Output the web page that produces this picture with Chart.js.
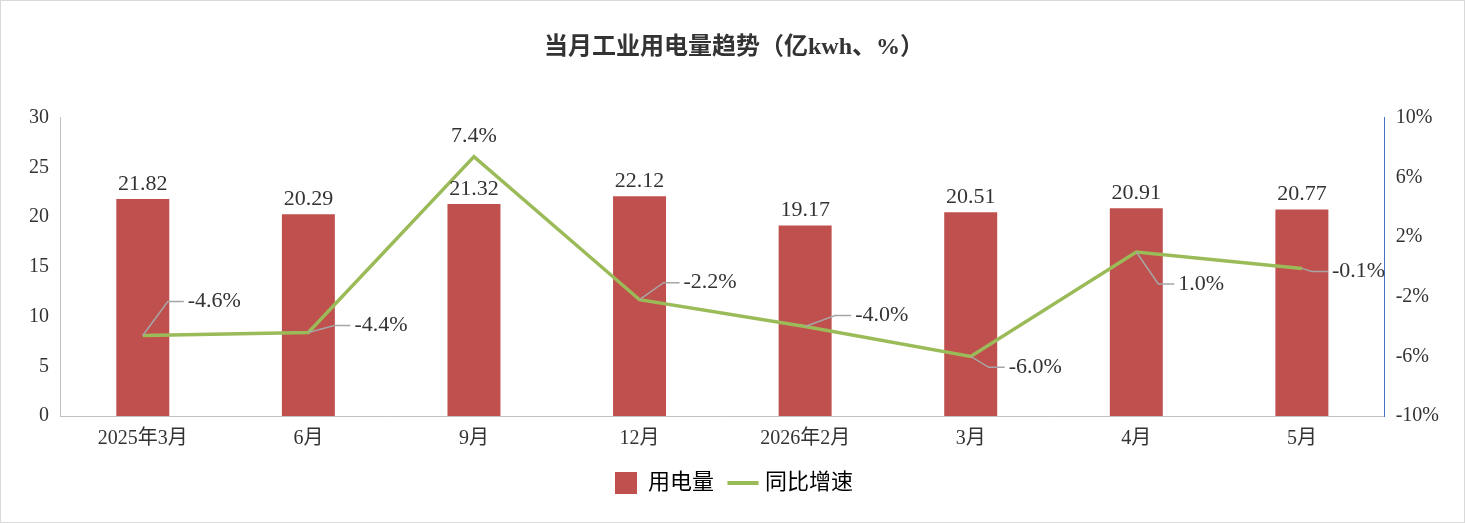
<!DOCTYPE html>
<html lang="zh">
<head>
<meta charset="UTF-8">
<script src="https://cdn.jsdelivr.net/npm/chart.js"></script>
<style>
  body { margin: 0; background: #fff; }
  #wrap { width: 1463px; height: 521px; border: 1px solid #d9d9d9; }
</style>
</head>
<body>
<div id="wrap"><canvas id="c"></canvas></div>
<script>
const categories = ['2025年3月', '6月', '9月', '12月', '2026年2月', '3月', '4月', '5月'];
const usage = [21.82, 20.29, 21.32, 22.12, 19.17, 20.51, 20.91, 20.77];
const growth = [-4.6, -4.4, 7.4, -2.2, -4.0, -6.0, 1.0, -0.1];
// left edge of each growth label relative to its point (dx, dy in px)
const growthLabelOffsets = [[45, -34], [46, -7], [0, -20], [44, -17], [50, -11], [38, 11], [42, 32], [30, 3]];

const FONT = '"Liberation Serif", "Noto Sans CJK SC", serif';

const labelPlugin = {
  id: 'labels',
  afterDatasetsDraw(chart) {
    const ctx = chart.ctx;
    ctx.save();
    ctx.font = '22px ' + FONT;
    ctx.fillStyle = '#333';
    ctx.textAlign = 'center';
    ctx.textBaseline = 'bottom';
    chart.getDatasetMeta(0).data.forEach((b, i) => {
      ctx.fillText(usage[i].toFixed(2), b.x, b.y - 4);
    });
    chart.getDatasetMeta(1).data.forEach((p, i) => {
      const [dx, dy] = growthLabelOffsets[i];
      const lx = p.x + dx, ly = p.y + dy;
      const txt = growth[i].toFixed(1) + '%';
      ctx.textBaseline = 'middle';
      if (i === 2) {
        ctx.textAlign = 'center';
        ctx.fillText(txt, p.x, ly);
        return;
      }
      ctx.strokeStyle = '#a6a6a6';
      ctx.lineWidth = 1.5;
      ctx.beginPath();
      ctx.moveTo(p.x, p.y);
      ctx.lineTo(lx - 20, ly);
      ctx.lineTo(lx - 4, ly);
      ctx.stroke();
      ctx.textAlign = 'left';
      ctx.fillText(txt, lx, ly);
    });
    ctx.restore();
  }
};

new Chart(document.getElementById('c'), {
  data: {
    labels: categories,
    datasets: [
      { type: 'bar', label: '用电量', data: usage, backgroundColor: '#C0504D',
        barPercentage: 0.32, categoryPercentage: 1, yAxisID: 'y', order: 2 },
      { type: 'line', label: '同比增速', data: growth, borderColor: '#9BBB59',
        backgroundColor: '#9BBB59', borderWidth: 3.5, pointRadius: 0, tension: 0,
        yAxisID: 'y1', order: 1 }
    ]
  },
  options: {
    responsive: true, maintainAspectRatio: false, animation: false,
    layout: { padding: { left: 25, right: 22, top: 10, bottom: 18 } },
    plugins: {
      title: { display: true, text: '当月工业用电量趋势（亿kwh、%）', color: '#333',
        font: { family: FONT, size: 24, weight: 'bold' }, padding: { top: 22, bottom: 56 } },
      legend: { position: 'bottom', labels: { color: '#333', font: { family: FONT, size: 22 },
        usePointStyle: true, boxWidth: 50, padding: 18,
        generateLabels(chart) {
          return chart.data.datasets.map((d, i) => ({
            text: d.label, fillStyle: d.backgroundColor, strokeStyle: d.type === 'line' ? d.borderColor : d.backgroundColor,
            lineWidth: d.type === 'line' ? 4 : 0, pointStyle: d.type === 'line' ? 'line' : 'rect', datasetIndex: i
          }));
        } } },
      tooltip: { enabled: false }
    },
    scales: {
      x: { grid: { display: false }, border: { color: '#bfbfbf' },
        ticks: { color: '#333', font: { family: FONT, size: 20 } } },
      y: { min: 0, max: 30, ticks: { stepSize: 5, color: '#333', font: { family: FONT, size: 20 } },
        grid: { display: false }, border: { color: '#bfbfbf' } },
      y1: { position: 'right', min: -10, max: 10,
        ticks: { color: '#333', font: { family: FONT, size: 20 }, callback: v => v + '%' },
        afterBuildTicks(ax) { ax.ticks = [-10, -6, -2, 2, 6, 10].map(v => ({ value: v })); },
        grid: { display: false }, border: { color: '#4472C4' } }
    }
  },
  plugins: [labelPlugin]
});
</script>
</body>
</html>
